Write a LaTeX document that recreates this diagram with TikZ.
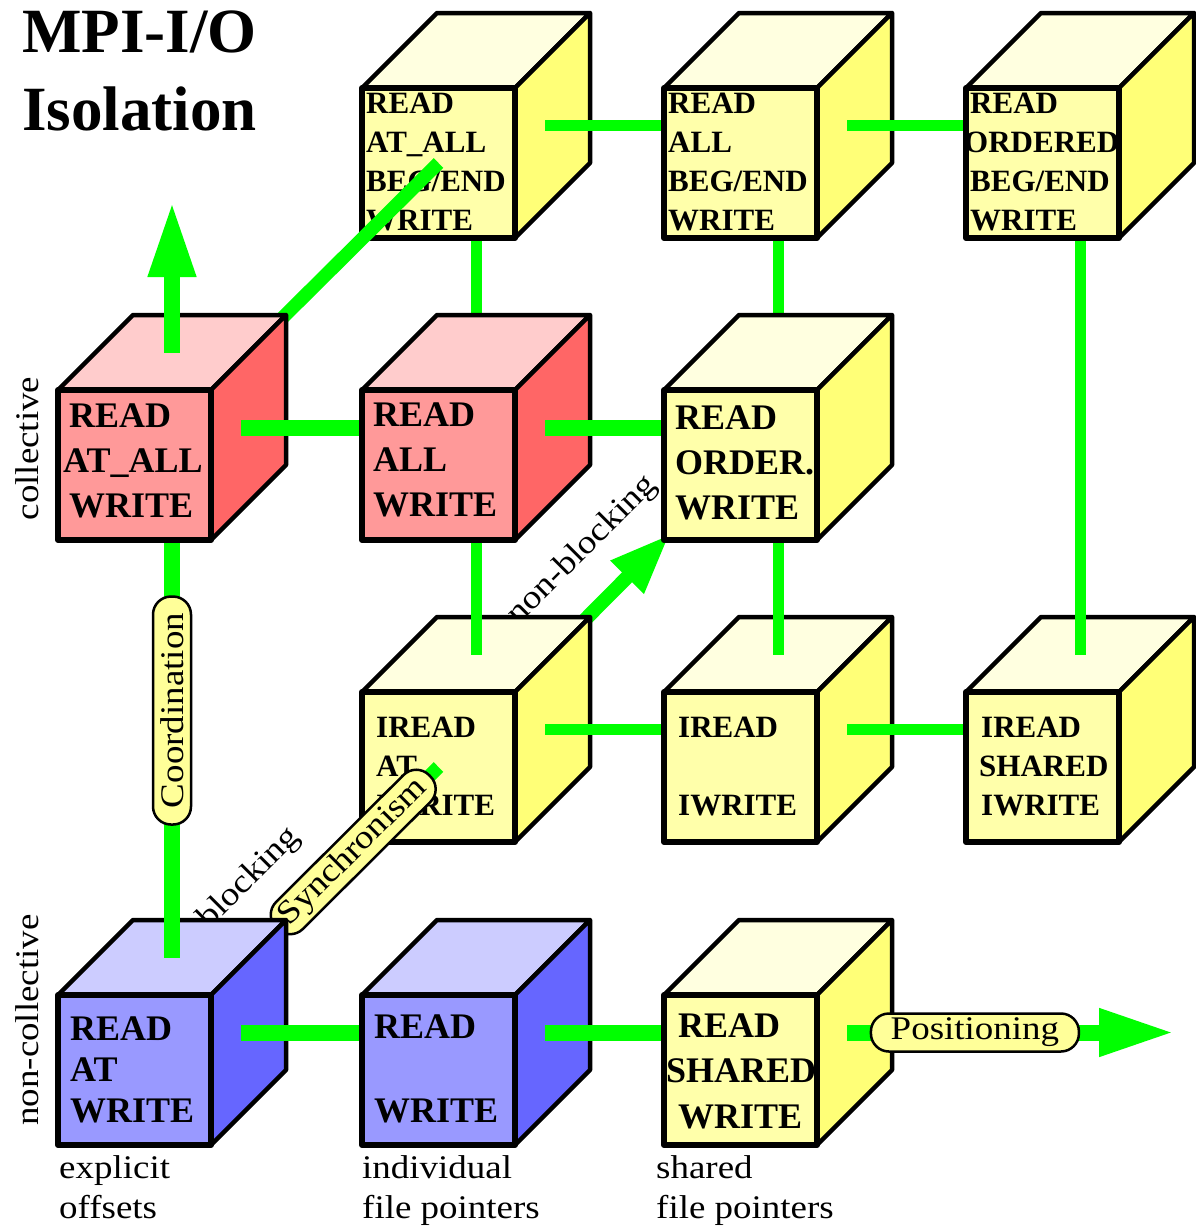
\documentclass[tikz,border=0pt]{standalone}
\usepackage{fontspec}
\setmainfont{Liberation Serif}
\newfontfamily\lblfont[FakeStretch=1.12]{Liberation Serif}
\usetikzlibrary{calc,arrows.meta}

\definecolor{rdF}{HTML}{FF9999}
\definecolor{rdT}{HTML}{FFCCCC}
\definecolor{rdS}{HTML}{FF6666}
\definecolor{blF}{HTML}{9999FF}
\definecolor{blT}{HTML}{CCCCFF}
\definecolor{blS}{HTML}{6666FF}
\definecolor{ylF}{HTML}{FFFFAA}
\definecolor{ylT}{HTML}{FFFFE0}
\definecolor{ylS}{HTML}{FFFF77}
\definecolor{linkgreen}{HTML}{00FF00}
\definecolor{pillyellow}{HTML}{FFFF99}

% left-aligned stack of lines whose baseline is the first line
\newcommand\stack[1]{\begin{tabular}[t]{@{}l@{}}#1\end{tabular}}

% place a cube: its front face as a named node, plus centre points
\newcommand\placecube[3]{%
  \node[face] (#1) at (#2,#3) {};
  \coordinate (#1-c) at ($(#1.center)+(37.5,-37.5)$);
  \coordinate (#1-t) at ($(#1.north)+(37.5,-37.5)$);
  \coordinate (#1-r) at ($(#1.east)+(30,-37.5)$);
}
% paint a placed cube; #2 = colour scheme (rd, bl, yl)
\newcommand\paintcube[2]{%
  \fill[#2F] (#1.north west) rectangle (#1.south east);
  \filldraw[edge, fill=#2T] (#1.north west) -- ++(75,-75) -- ++(153,0) -- (#1.north east) -- cycle;
  \filldraw[edge, fill=#2S] (#1.north east) -- ++(75,-75) -- ++(0,150) -- (#1.south east) -- cycle;
  \draw[frontedge] (#1.north west) rectangle (#1.south east);
}

\begin{document}
\begin{tikzpicture}[x=1pt,y=-1pt,
  face/.style={rectangle, minimum width=153pt, minimum height=150pt,
    inner sep=0pt, outer sep=0pt, anchor=north west},
  edge/.style={draw=black, line width=4.5pt, line join=round},
  frontedge/.style={draw=black, line width=6pt, line join=round},
  bigtext/.style={inner sep=0pt, anchor=base west, font=\bfseries\fontsize{36}{45}\selectfont},
  smalltext/.style={inner sep=0pt, anchor=base west, font=\bfseries\fontsize{31}{39.2}\selectfont},
  lbl/.style={inner sep=0pt, font=\lblfont\fontsize{33}{40}\selectfont},
  frontlink/.style={draw=linkgreen, line width=16pt},
  backlink/.style={draw=linkgreen, line width=11pt},
  depthlink/.style={draw=linkgreen, line width=13.5pt},
  pill/.style={draw=black, line width=2.5pt, fill=pillyellow, rounded corners=18pt,
    minimum height=38pt, inner sep=0pt, font=\lblfont\fontsize{33}{33}\selectfont},
  axishead/.style={-{Triangle[length=76pt,width=44pt]}},
]
\useasboundingbox (0,0) rectangle (1195,1229);

% ---- cube positions (front face, top left corner)
\placecube{nbAA}{362}{88}
\placecube{nbAL}{664}{88}
\placecube{nbOR}{966}{88}
\placecube{nbAT}{362}{692}
\placecube{nbIN}{664}{692}
\placecube{nbSH}{966}{692}
\placecube{bAA}{58}{390}
\placecube{bAL}{362}{390}
\placecube{bOR}{664}{390}
\placecube{bAT}{58}{995}
\placecube{bIN}{362}{995}
\placecube{bSH}{664}{995}
\coordinate (synctip) at (670,534);
\coordinate (coordtip) at (172,201);
\coordinate (postip) at (1175,1032.5);

% title
\node[inner sep=0pt, anchor=base west, font=\bfseries\fontsize{63}{78}\selectfont]
  (title) at (22,52) {\stack{MPI-I/O\\Isolation}};

% axis labels
\node[lbl, rotate=90, anchor=base] (colllbl) at (38,448.5) {collective};
\node[lbl, rotate=90, anchor=base] (ncolllbl) at (38,1020) {non-collective};
\node[lbl, anchor=base west] (offlbl) at (59,1178) {\stack{explicit\\offsets}};
\node[lbl, anchor=base west] (indlbl) at (362,1178) {\stack{individual\\file pointers}};
\node[lbl, anchor=base west] (shlbl) at (656,1178) {\stack{shared\\file pointers}};

% synchronism axis beyond the non-blocking cube
\node[lbl, rotate=45, anchor=base west] (nblklbl) at (518,626) {non-blocking};
\draw[depthlink, line width=14pt, -{Triangle[length=61pt,width=43pt]}] (nbAT-c) -- (synctip);

% ---- back layer, non-collective row
\paintcube{nbAT}{yl}
\node[smalltext, font=\bfseries\fontsize{31}{39}\selectfont] (nbAT-txt) at (376,737)
  {\stack{IREAD\\AT\\IWRITE}};
\draw[backlink] (nbAT-r) -- (nbIN-c);
\paintcube{nbIN}{yl}
\node[smalltext, font=\bfseries\fontsize{31}{39}\selectfont] (nbIN-txt) at (678,737)
  {\stack{IREAD\\ \\IWRITE}};
\draw[backlink] (nbIN-r) -- (nbSH-c);
\paintcube{nbSH}{yl}
\node[smalltext, font=\bfseries\fontsize{31}{39}\selectfont] (nbSH-txt) at (981,737)
  {\stack{IREAD\\\hspace*{-2pt}SHARED\\IWRITE}};

% back layer, coordination links
\draw[backlink] (nbAT-t) -- (nbAA-c);
\draw[backlink] (nbIN-t) -- (nbAL-c);
\draw[backlink] (nbSH-t) -- (nbOR-c);

% ---- back layer, collective row
\paintcube{nbAA}{yl}
\node[smalltext] (nbAA-txt) at (366,113) {\stack{READ\\AT\_ALL\\BEG/END\\WRITE}};
\draw[backlink] (nbAA-r) -- (nbAL-c);
\paintcube{nbAL}{yl}
\node[smalltext] (nbAL-txt) at (668,113) {\stack{READ\\ALL\\BEG/END\\WRITE}};
\draw[backlink] (nbAL-r) -- (nbOR-c);
\paintcube{nbOR}{yl}
\node[smalltext] (nbOR-txt) at (970,113) {\stack{READ\\\hspace*{-6pt}ORDERED\\BEG/END\\WRITE}};

% ---- depth links
\draw[depthlink] (bAA-c) -- (nbAA.center);
\node[lbl, rotate=45, anchor=base west] (blklbl) at (209,930) {blocking};
\draw[depthlink] (bAT-c) -- node[pill, sloped, pos=0.68, minimum width=216pt] (synclbl) {Synchronism} (nbAT.center);

% ---- front layer, non-collective row
\paintcube{bAT}{bl}
\node[bigtext, font=\bfseries\fontsize{36}{41}\selectfont] (bAT-txt) at (70,1040)
  {\stack{READ\\AT\\WRITE}};
\draw[frontlink] (bAT-t) -- node[pill, rotate=90, pos=0.466, minimum width=228pt] (coordlbl) {Coordination} (bAA-c);
\draw[frontlink] (bAT-r) -- (bIN-c);
\paintcube{bIN}{bl}
\node[bigtext, font=\bfseries\fontsize{36}{42}\selectfont] (bIN-txt) at (374,1038)
  {\stack{READ\\ \\WRITE}};
\draw[frontlink] (bIN-r) -- (bSH-c);
\paintcube{bSH}{yl}
\node[bigtext, font=\bfseries\fontsize{36}{45.5}\selectfont] (bSH-txt) at (678,1037)
  {\stack{READ\\\hspace*{-12pt}SHARED\\WRITE}};
\draw[frontlink, axishead] (bSH-r) -- node[pill, pos=0.39, minimum width=208pt] (poslbl) {Positioning} (postip);

% ---- front layer, collective row
\paintcube{bAA}{rd}
\node[bigtext] (bAA-txt) at (69,427) {\stack{READ\\\hspace*{-6pt}AT\_ALL\\WRITE}};
\draw[frontlink, axishead] (bAA-t) -- (coordtip);
\draw[frontlink] (bAA-r) -- (bAL-c);
\paintcube{bAL}{rd}
\node[bigtext] (bAL-txt) at (373,426) {\stack{READ\\ALL\\WRITE}};
\draw[frontlink] (bAL-r) -- (bOR-c);
\paintcube{bOR}{yl}
\node[bigtext] (bOR-txt) at (675,429) {\stack{READ\\ORDER.\\WRITE}};
\end{tikzpicture}
\end{document}
